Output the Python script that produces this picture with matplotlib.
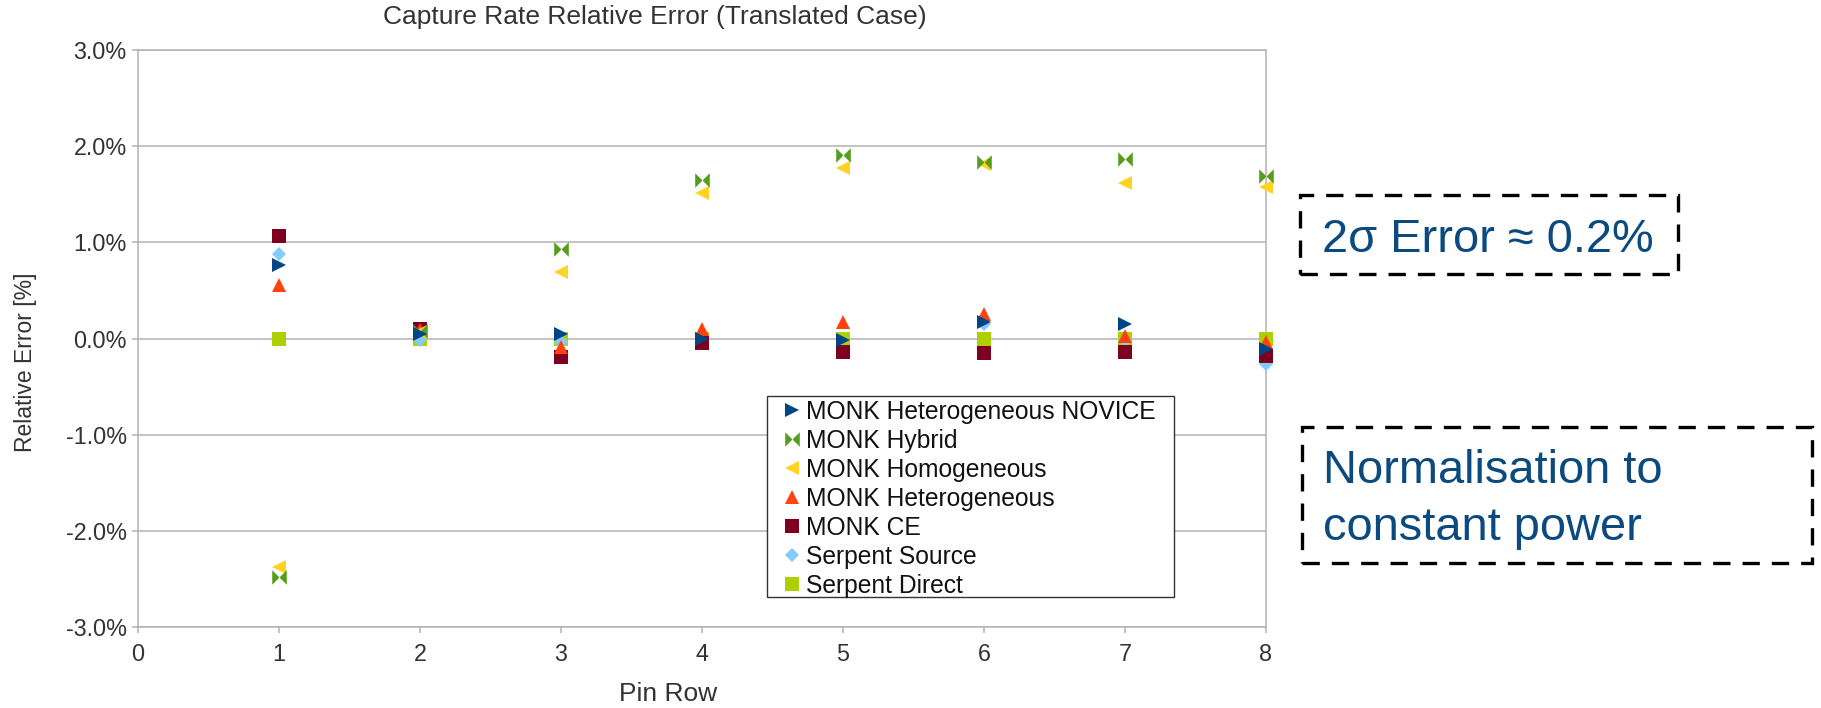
import matplotlib
matplotlib.use("Agg")
import matplotlib.pyplot as plt
from matplotlib.path import Path
from matplotlib.patches import Rectangle
from matplotlib.ticker import FuncFormatter, MultipleLocator

plt.rcParams['font.family'] = ['Liberation Sans', 'DejaVu Sans']

# Relative error of the capture rate per pin row, in percent
pin_rows = [1, 2, 3, 4, 5, 6, 7, 8]
monk_novice = [0.76, 0.05, 0.05, 0.00, -0.02, 0.17, 0.15, -0.11]
monk_hybrid = [-2.48, 0.08, 0.93, 1.65, 1.91, 1.84, 1.87, 1.69]
monk_homogeneous = [-2.38, 0.07, 0.69, 1.51, 1.77, 1.81, 1.62, 1.58]
monk_heterogeneous = [0.56, 0.09, -0.09, 0.10, 0.17, 0.25, 0.03, -0.04]
monk_ce = [1.07, 0.10, -0.19, -0.05, -0.14, -0.15, -0.14, -0.18]
serpent_source = [0.88, -0.02, -0.04, -0.04, -0.13, 0.15, -0.02, -0.27]
serpent_direct = [0.0, 0.0, 0.0, 0.0, 0.0, 0.0, 0.0, 0.0]

series_labels = ["MONK Heterogeneous NOVICE", "MONK Hybrid", "MONK Homogeneous",
                 "MONK Heterogeneous", "MONK CE", "Serpent Source", "Serpent Direct"]
series_values = [monk_novice, monk_hybrid, monk_homogeneous, monk_heterogeneous,
                 monk_ce, serpent_source, serpent_direct]

# Bow-tie marker: two triangles meeting at the centre
bowtie = Path([(-1, -1), (0, 0), (-1, 1), (-1, -1), (1, -1), (0, 0), (1, 1), (1, -1)],
              [Path.MOVETO, Path.LINETO, Path.LINETO, Path.CLOSEPOLY,
               Path.MOVETO, Path.LINETO, Path.LINETO, Path.CLOSEPOLY])

styles = [
    dict(marker=">", color="#004586", ms=10),
    dict(marker=bowtie, color="#579d1c", ms=10.5),
    dict(marker="<", color="#ffd320", ms=10),
    dict(marker="^", color="#ff420e", ms=10),
    dict(marker="s", color="#7e0021", ms=10),
    dict(marker="D", color="#83caff", ms=7.5),
    dict(marker="s", color="#aecf00", ms=10),
]

W, H = 1821, 708
fig = plt.figure(figsize=(W / 100, H / 100), dpi=100)
ax = fig.add_axes([138 / W, 1 - 627 / H, (1266 - 138) / W, (627 - 50) / H])

handles = []
for i, (label, vals, st) in enumerate(zip(series_labels, series_values, styles)):
    h, = ax.plot(pin_rows, vals, linestyle="none", marker=st["marker"], ms=st["ms"],
                 color=st["color"], markeredgewidth=0, label=label, zorder=10 - i,
                 clip_on=False)
    handles.append(h)

ax.set_xlim(0, 8)
ax.set_ylim(-3, 3)
ax.xaxis.set_major_locator(MultipleLocator(1))
ax.yaxis.set_major_locator(MultipleLocator(1))
ax.yaxis.set_major_formatter(FuncFormatter(lambda v, p: f"{v:.1f}%"))
ax.grid(axis="y", color="#b3b3b3", lw=1.1)
ax.set_axisbelow(True)
for s in ax.spines.values():
    s.set_color("#b3b3b3")
    s.set_linewidth(1.1)
ax.tick_params(axis="both", colors="#b3b3b3", labelcolor="#333333",
               labelsize=16.8, length=4, width=1.1, direction="out")
ax.tick_params(axis="y", pad=4)
ax.tick_params(axis="x", pad=7.5)

fig.text(655 / W, 1 - 17 / H, "Capture Rate Relative Error (Translated Case)",
         ha="center", va="center", fontsize=19, color="#333333")
fig.text(668 / W, 1 - 694 / H, "Pin Row", ha="center", va="center",
         fontsize=19, color="#333333")
fig.text(26 / W, 1 - 362 / H, "Relative Error [%]", ha="center", va="center",
         rotation=90, fontsize=16.5, color="#333333")

# Legend box: white frame drawn above the plot, entries on top of it
fig.patches.append(Rectangle((767 / W, 1 - 597 / H), (1174 - 767) / W, (597 - 396) / H,
                             transform=fig.transFigure, fill=True, fc="white",
                             ec="#333333", lw=1.0, zorder=15))
leg = fig.legend(handles, series_labels, loc="upper left",
                 bbox_to_anchor=(782 / W, 1 - 400 / H),
                 bbox_transform=fig.transFigure, fontsize=17.75, frameon=False,
                 borderpad=0, labelspacing=0.2, handlelength=0.8,
                 handletextpad=0.17, borderaxespad=0)
leg.set_zorder(20)
for t in leg.get_texts():
    t.set_color("#111111")

# Annotation boxes beside the chart
note_color = "#0a4a7e"
dash = (0, (5.2, 3.6))
fig.patches.append(Rectangle((1300 / W, 1 - 274 / H), (1678 - 1300) / W, (274 - 195) / H,
                             transform=fig.transFigure, fill=False, ec="black",
                             lw=2.4, linestyle=dash))
fig.text(1322 / W, 1 - 252 / H, "2σ Error ≈ 0.2%", ha="left", va="baseline",
         fontsize=33.8, color=note_color)

fig.patches.append(Rectangle((1302 / W, 1 - 563 / H), (1812 - 1302) / W, (563 - 427) / H,
                             transform=fig.transFigure, fill=False, ec="black",
                             lw=2.4, linestyle=dash))
fig.text(1323 / W, 1 - 483 / H, "Normalisation to", ha="left", va="baseline",
         fontsize=33.8, color=note_color)
fig.text(1323 / W, 1 - 540 / H, "constant power", ha="left", va="baseline",
         fontsize=33.8, color=note_color)

fig.savefig("out.png", dpi=100, facecolor="white")
